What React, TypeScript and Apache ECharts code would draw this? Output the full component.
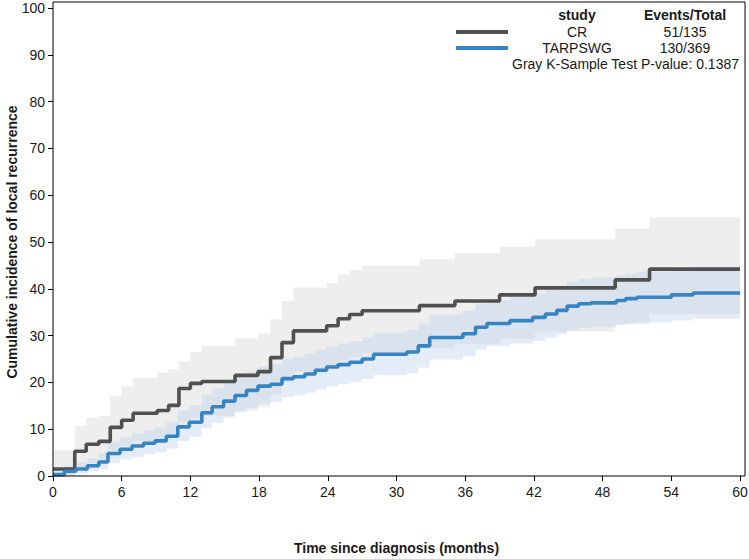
import React, { useEffect, useRef } from "react";
import * as echarts from "echarts";

// ---- Data ----
const X_MAX = 60;
const X_TICK_STEP = 6;
const Y_TICK_STEP = 10;

// CR study: step times (months), estimate and CI (%)
const CR_T = [0, 1.9, 2.9, 4.0, 5.0, 6.0, 7.0, 9.1, 10.1, 11.0, 12.0, 13.0, 15.9, 17.9, 19.0, 20.0, 21.0, 23.9, 24.9, 25.9, 27.0, 32.0, 35.1, 39.0, 42.1, 49.1, 52.1];
const CR_EST = [1.5, 5.3, 6.8, 7.4, 10.4, 11.9, 13.4, 14.0, 15.1, 18.7, 19.8, 20.2, 21.5, 22.3, 25.3, 28.5, 31.0, 32.1, 33.6, 34.5, 35.3, 36.4, 37.4, 38.7, 40.2, 41.9, 44.2];
const CR_HI = [5.5, 10.7, 12.5, 12.8, 17.1, 19.2, 21.0, 22.1, 22.8, 24.5, 26.5, 27.8, 29.4, 30.4, 33.5, 37.4, 40.3, 41.2, 43.0, 44.0, 45.0, 46.3, 47.6, 49.0, 50.6, 52.9, 55.3];
const CR_LO = [0, 1.8, 2.7, 3.2, 5.3, 6.4, 7.4, 7.9, 8.7, 11.6, 12.5, 12.9, 14.0, 14.7, 17.3, 20.1, 22.3, 23.3, 24.7, 25.5, 26.3, 27.3, 28.2, 29.4, 30.9, 32.5, 34.6];

// TARPSWG study
const TAR_T = [0, 1, 2, 3, 4, 4.8, 5.85, 6.9, 7.9, 8.9, 9.9, 10.9, 11.9, 13.0, 13.9, 14.9, 15.9, 16.9, 17.9, 19.0, 20.0, 21.0, 22.0, 22.9, 23.9, 24.9, 25.9, 27.0, 28.0, 30.9, 31.9, 32.9, 35.8, 36.9, 37.9, 39.9, 41.9, 43.0, 44.0, 44.9, 45.9, 47.0, 49.2, 50.0, 51.0, 54.0, 55.9];
const TAR_EST = [0.3, 1.0, 1.5, 2.2, 3.0, 4.8, 5.7, 6.4, 7.0, 7.5, 8.5, 10.5, 11.5, 13.5, 14.8, 16.0, 17.2, 18.3, 19.2, 19.6, 20.8, 21.2, 21.8, 22.6, 23.3, 23.8, 24.3, 25.0, 26.0, 26.5, 27.8, 29.6, 30.4, 31.8, 32.6, 33.2, 33.9, 34.6, 35.4, 36.3, 36.8, 37.0, 37.5, 37.9, 38.2, 38.7, 39.1];
const TAR_LO = [0, 0.2, 0.5, 1.0, 1.5, 2.8, 3.5, 4.0, 4.6, 5.0, 5.8, 7.5, 8.4, 10.2, 11.4, 12.5, 13.6, 14.6, 15.4, 15.8, 16.9, 17.2, 17.8, 18.5, 19.1, 19.6, 20.0, 20.7, 21.6, 22.0, 23.2, 24.9, 25.6, 27.0, 27.7, 28.3, 28.9, 29.6, 30.3, 31.1, 31.6, 31.8, 32.2, 32.6, 32.8, 33.2, 33.6];
const TAR_HI = [1.0, 2.2, 2.9, 3.8, 4.9, 7.2, 8.2, 9.1, 9.8, 10.4, 11.6, 14.0, 15.1, 17.3, 18.7, 20.0, 21.2, 22.4, 23.4, 23.8, 25.1, 25.5, 26.1, 27.0, 27.7, 28.3, 28.8, 29.6, 30.6, 31.2, 32.6, 34.5, 35.3, 36.8, 37.6, 38.3, 39.0, 39.8, 40.6, 41.6, 42.1, 42.4, 42.9, 43.3, 43.7, 44.2, 44.6];

const LEGEND_STUDIES = ["CR", "TARPSWG"];
const LEGEND_EVENTS = ["51/135", "130/369"];
const P_VALUE_TEXT = "Gray K-Sample Test P-value: 0.1387";

// ---- Styles ----
const FONT = "'Liberation Sans', Arial, Helvetica, sans-serif";
const TEXT_COLOR = "#1a1a1a";
const CR_COLOR = "#505050";
const TAR_COLOR = "#3784c4";
const CR_BAND = "#eeeeee";
const TAR_BAND = "rgba(190,212,235,0.42)";

function stepLine(t: number[], v: number[]) {
  const d = t.map((x, i) => [x, v[i]]);
  d.push([X_MAX, v[v.length - 1]]);
  return d;
}

function bandSeries(t: number[], lo: number[], hi: number[], fill: string, z: number) {
  return {
    type: "custom",
    z,
    silent: true,
    data: [[0, 0]],
    renderItem: (_params: any, api: any) => {
      const pts: number[][] = [];
      for (let i = 0; i < t.length; i++) {
        const t1 = i + 1 < t.length ? t[i + 1] : X_MAX;
        pts.push(api.coord([t[i], hi[i]]));
        pts.push(api.coord([t1, hi[i]]));
      }
      for (let i = t.length - 1; i >= 0; i--) {
        const t1 = i + 1 < t.length ? t[i + 1] : X_MAX;
        pts.push(api.coord([t1, lo[i]]));
        pts.push(api.coord([t[i], lo[i]]));
      }
      return { type: "polygon", shape: { points: pts }, style: { fill, stroke: null } };
    },
  };
}

export default function App() {
  const ref = useRef<HTMLDivElement>(null);
  useEffect(() => {
    if (!ref.current) return;
    const chart = echarts.init(ref.current, undefined, { renderer: "svg" });
    const legendText = (x: number, y: number, text: string, bold = false, align = "center") => ({
      type: "text",
      x,
      y,
      style: {
        text,
        fill: TEXT_COLOR,
        font: `${bold ? "bold " : ""}14px ${FONT}`,
        align,
        verticalAlign: "middle",
      },
    });
    chart.setOption({
      animation: false,
      backgroundColor: "#ffffff",
      grid: { left: 53, right: 9, top: 8, bottom: 83, containLabel: false, outerBoundsMode: "none" },
      xAxis: {
        type: "value",
        min: 0,
        max: X_MAX,
        interval: X_TICK_STEP,
        name: "Time since diagnosis (months)",
        nameLocation: "middle",
        nameGap: 65,
        nameMoveOverlap: false,
        nameTextStyle: { fontFamily: FONT, fontSize: 14, fontWeight: "bold", color: TEXT_COLOR },
        axisLine: { show: false },
        axisTick: { show: true, length: 5, lineStyle: { color: "#000" } },
        axisLabel: { fontFamily: FONT, fontSize: 14, color: TEXT_COLOR, margin: 9 },
        splitLine: { show: false },
      },
      yAxis: {
        type: "value",
        min: 0,
        max: 100,
        interval: Y_TICK_STEP,
        name: "Cumulative incidence of local recurrence",
        nameLocation: "middle",
        nameGap: 34,
        nameMoveOverlap: false,
        nameTextStyle: { fontFamily: FONT, fontSize: 14, fontWeight: "bold", color: TEXT_COLOR },
        axisLine: { show: false },
        axisTick: { show: true, length: 5, lineStyle: { color: "#000" } },
        axisLabel: { fontFamily: FONT, fontSize: 14, color: TEXT_COLOR, margin: 8 },
        splitLine: { show: false },
      },
      series: [
        bandSeries(CR_T, CR_LO, CR_HI, CR_BAND, 1),
        bandSeries(TAR_T, TAR_LO, TAR_HI, TAR_BAND, 2),
        {
          type: "line",
          name: LEGEND_STUDIES[0],
          step: "end",
          z: 3,
          symbol: "none",
          data: stepLine(CR_T, CR_EST),
          lineStyle: { color: CR_COLOR, width: 3.6 },
        },
        {
          type: "line",
          name: LEGEND_STUDIES[1],
          step: "end",
          z: 4,
          symbol: "none",
          data: stepLine(TAR_T, TAR_EST),
          lineStyle: { color: TAR_COLOR, width: 3.6 },
        },
      ],
      graphic: [
        {
          type: "rect",
          z: 10,
          silent: true,
          shape: { x: 53, y: 2, width: 692, height: 474 },
          style: { fill: null, stroke: "#000", lineWidth: 1 },
        },
        legendText(577, 15, "study", true),
        legendText(685, 15, "Events/Total", true),
        {
          type: "line",
          shape: { x1: 456, y1: 32, x2: 508, y2: 32 },
          style: { stroke: CR_COLOR, lineWidth: 4 },
        },
        {
          type: "line",
          shape: { x1: 456, y1: 48, x2: 508, y2: 48 },
          style: { stroke: TAR_COLOR, lineWidth: 4 },
        },
        legendText(577, 32, LEGEND_STUDIES[0]),
        legendText(685, 32, LEGEND_EVENTS[0]),
        legendText(577, 48, LEGEND_STUDIES[1]),
        legendText(685, 48, LEGEND_EVENTS[1]),
        legendText(739, 64, P_VALUE_TEXT, false, "right"),
      ],
    });
    return () => chart.dispose();
  }, []);
  return <div ref={ref} style={{ width: 749, height: 559, position: "absolute", left: 0, top: 0 }} />;
}
